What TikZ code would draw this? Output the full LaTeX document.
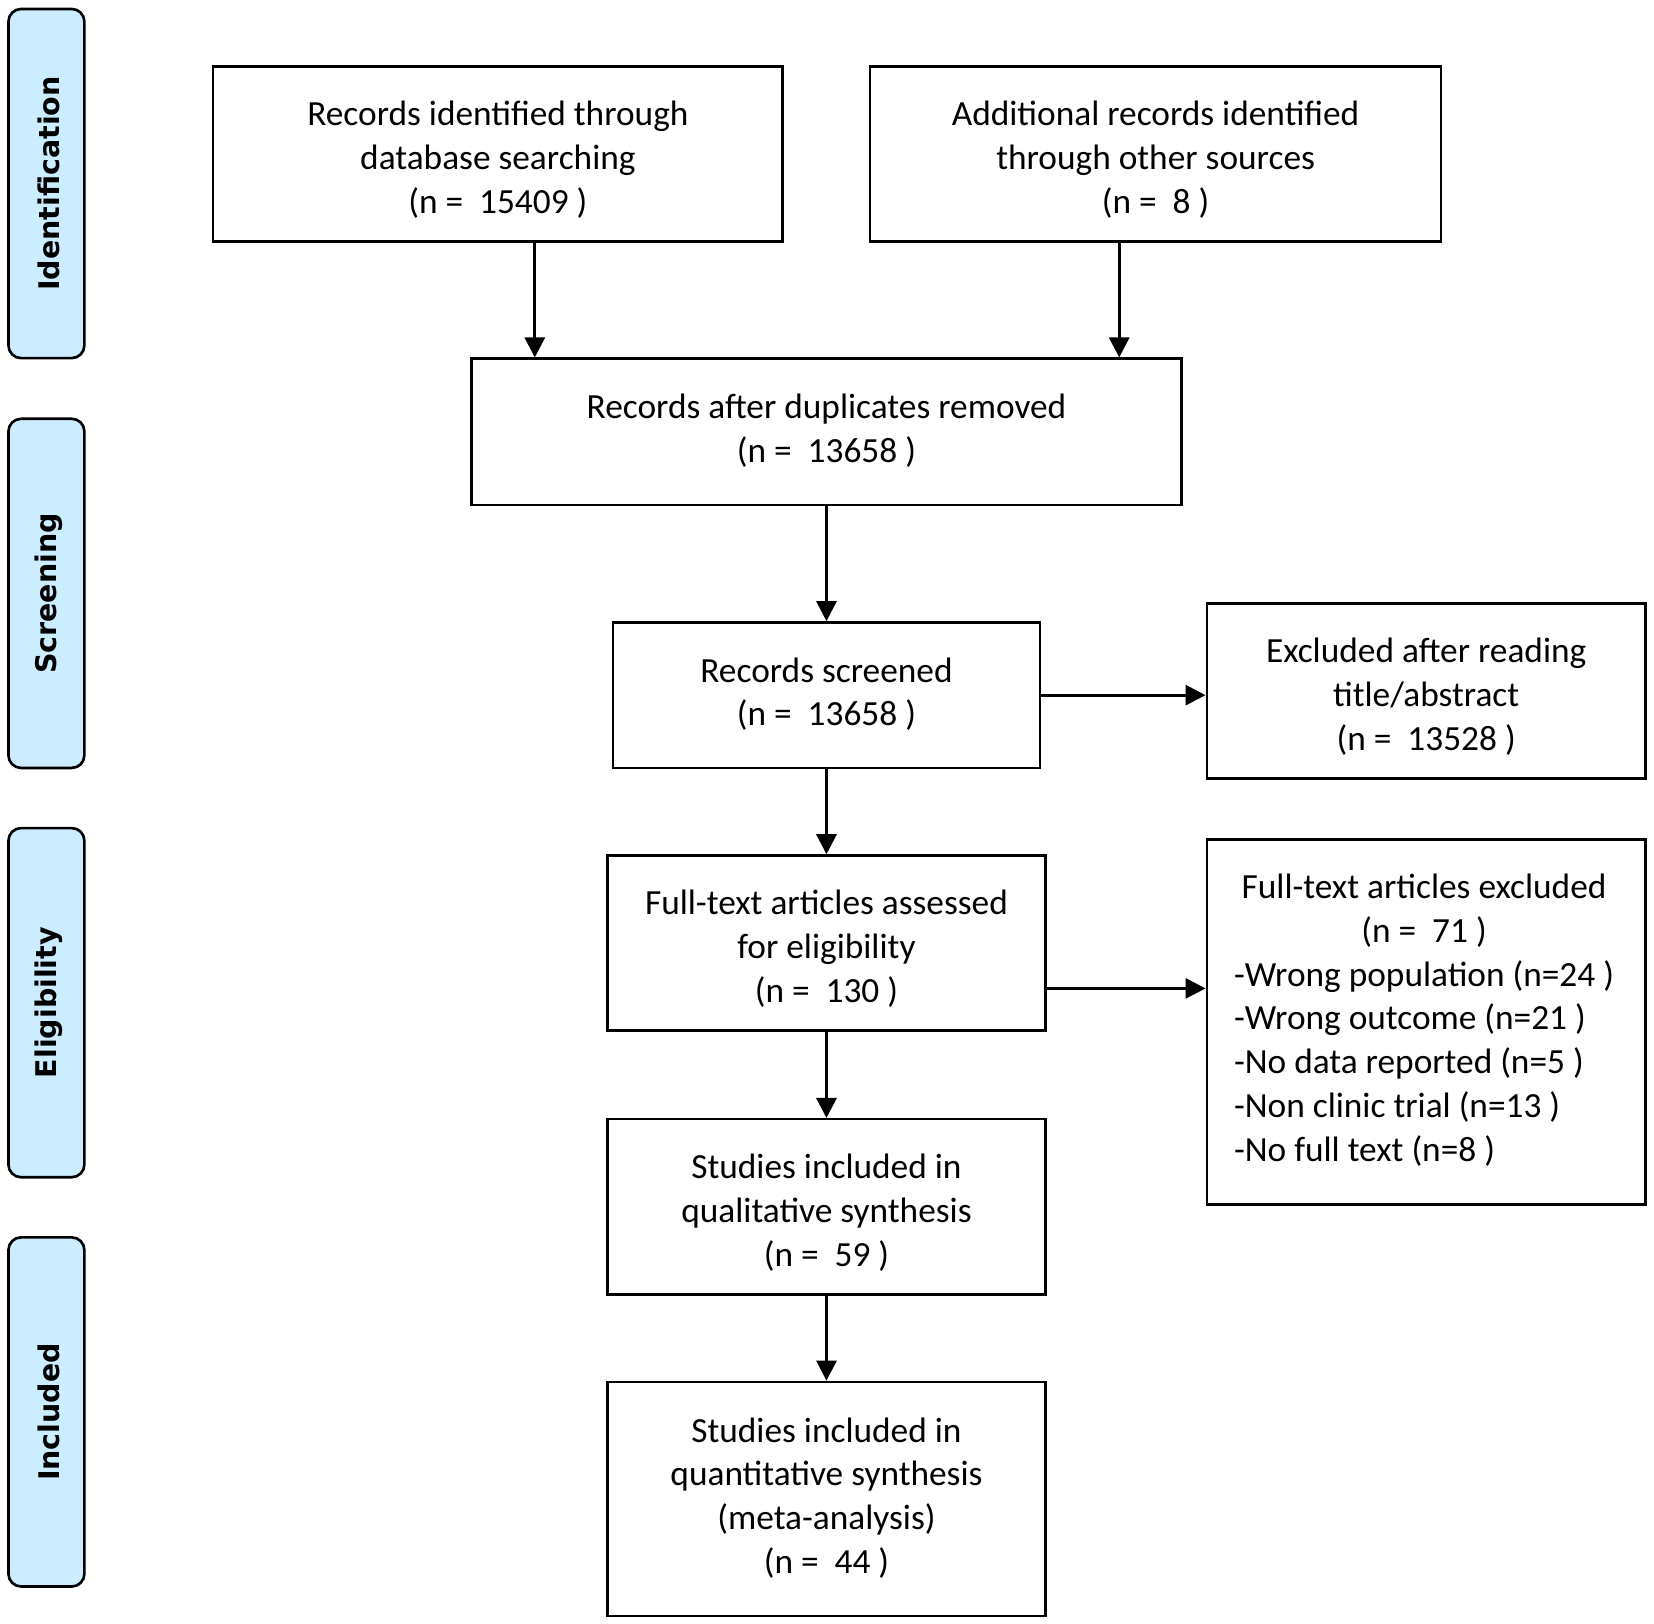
\documentclass[tikz,border=0pt]{standalone}
\usepackage{fontspec}
\setmainfont{Carlito}
\newfontfamily\sidefont{DejaVu Sans}
\usetikzlibrary{arrows.meta,calc}
\definecolor{sidefill}{RGB}{204,236,255}
\begin{document}
\begin{tikzpicture}[x=1pt,y=-1pt,
  box/.style={draw=black, line width=2.3pt, rectangle, inner sep=0pt},
  boxtext/.style={align=center, inner sep=0pt, font=\fontsize{33.5}{41.5}\selectfont},
  side/.style={draw=black, line width=2.5pt, fill=sidefill, rounded corners=12pt,
    minimum width=72pt, minimum height=331pt, inner sep=0pt},
  sidelabel/.style={rotate=90, font=\sidefont\bfseries\fontsize{27}{30}\selectfont},
  arr/.style={line width=2.8pt, -{Triangle[length=19pt,width=19pt]}}]
\useasboundingbox (0,0) rectangle (1568,1539.5);
% side bars
\node[side] (s1) at (44,174) {};
\node[sidelabel] (l1) at ($(s1.center)+(2,0)$) {Identification};
\node[side] (s2) at (44,562.5) {};
\node[sidelabel] (l2) at ($(s2.center)+(2,0)$) {Screening};
\node[side] (s3) at (44,950.5) {};
\node[sidelabel] (l3) at ($(s3.center)+(2,0)$) {Eligibility};
\node[side] (s4) at (44,1338.5) {};
\node[sidelabel] (l4) at ($(s4.center)+(2,0)$) {Included};
% boxes
\node[box, minimum width=540pt, minimum height=166pt] (b1) at (472,146) {};
\node[boxtext] (t1) at ($(b1.center)+(0,5.5)$)
  {Records identified through\\database searching\\(n = \ 15409 )};
\node[box, minimum width=541pt, minimum height=166pt] (b2) at (1095.5,146) {};
\node[boxtext] (t2) at ($(b2.center)+(0,5.5)$)
  {Additional records identified\\through other sources\\(n = \ 8 )};
\node[box, minimum width=673pt, minimum height=139pt] (b3) at (783.5,409.5) {};
\node[boxtext] (t3) at ($(b3.center)+(0,-1)$)
  {Records after duplicates removed\\(n = \ 13658 )};
\node[box, minimum width=405pt, minimum height=138pt] (b4) at (783.5,659) {};
\node[boxtext] (t4) at ($(b4.center)+(0,-1)$)
  {Records screened\\(n = \ 13658 )};
\node[box, minimum width=416pt, minimum height=166pt] (e1) at (1352,655) {};
\node[boxtext] (te1) at ($(e1.center)+(0,5.5)$)
  {Excluded after reading\\title/abstract\\(n = \ 13528 )};
\node[box, minimum width=415pt, minimum height=166pt] (b5) at (783.5,894) {};
\node[boxtext] (t5) at ($(b5.center)+(0,5.5)$)
  {Full-text articles assessed\\for eligibility\\(n = \ 130 )};
\node[box, minimum width=416pt, minimum height=346pt] (e2) at (1352,969) {};
\node[inner sep=0pt, font=\fontsize{33.5}{41.5}\selectfont] (te2) at ($(e2.center)+(-2,-1)$)
  {\begin{tabular}{@{}l@{}}
   \multicolumn{1}{@{}c@{}}{Full-text articles excluded}\\
   \multicolumn{1}{@{}c@{}}{(n = \ 71 )}\\
   -Wrong population (n=24 )\\
   -Wrong outcome (n=21 )\\
   -No data reported (n=5 )\\
   -Non clinic trial (n=13 )\\
   -No full text (n=8 )
   \end{tabular}};
\node[box, minimum width=415pt, minimum height=166pt] (b6) at (783.5,1144) {};
\node[boxtext] (t6) at ($(b6.center)+(0,5.5)$)
  {Studies included in\\qualitative synthesis\\(n = \ 59 )};
\node[box, minimum width=415pt, minimum height=222pt] (b7) at (783.5,1421) {};
\node[boxtext] (t7) at ($(b7.center)+(0,-1)$)
  {Studies included in\\quantitative synthesis\\(meta-analysis)\\(n = \ 44 )};
% connectors
\coordinate (a1) at (507,0);
\coordinate (a2) at (1061,0);
\coordinate (h2) at (0,937);
\draw[arr] (b1.south -| a1) -- (b3.north -| a1);
\draw[arr] (b2.south -| a2) -- (b3.north -| a2);
\draw[arr] (b3.south) -- (b4.north);
\draw[arr] (b4.east) -- (b4.east -| e1.west);
\draw[arr] (b4.south) -- (b5.north);
\draw[arr] (b5.east |- h2) -- (e2.west |- h2);
\draw[arr] (b5.south) -- (b6.north);
\draw[arr] (b6.south) -- (b7.north);
\end{tikzpicture}
\end{document}
